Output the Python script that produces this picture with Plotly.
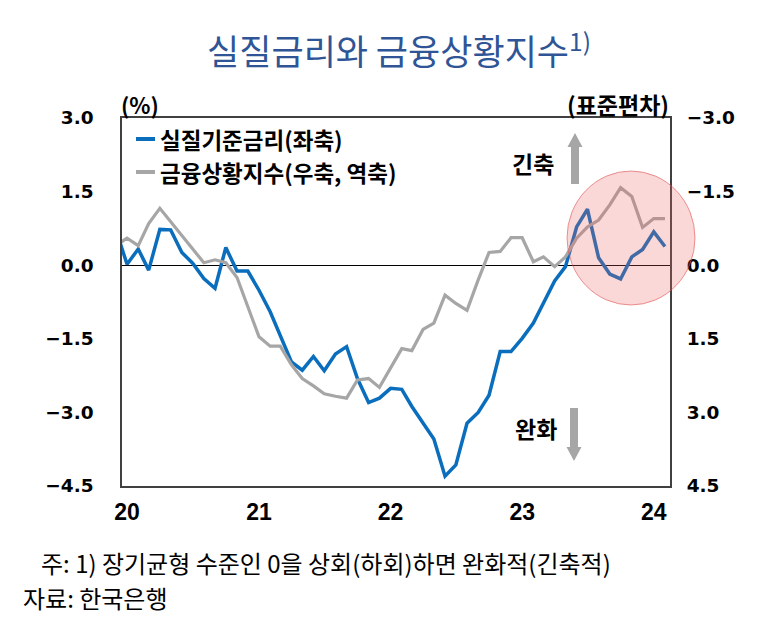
import plotly.graph_objects as go

months = [
    "2019-12", "2020-01", "2020-02", "2020-03", "2020-04", "2020-05", "2020-06",
    "2020-07", "2020-08", "2020-09", "2020-10", "2020-11", "2020-12",
    "2021-01", "2021-02", "2021-03", "2021-04", "2021-05", "2021-06",
    "2021-07", "2021-08", "2021-09", "2021-10", "2021-11", "2021-12",
    "2022-01", "2022-02", "2022-03", "2022-04", "2022-05", "2022-06",
    "2022-07", "2022-08", "2022-09", "2022-10", "2022-11", "2022-12",
    "2023-01", "2023-02", "2023-03", "2023-04", "2023-05", "2023-06",
    "2023-07", "2023-08", "2023-09", "2023-10", "2023-11", "2023-12",
    "2024-01", "2024-02",
]

real_rate = [
    0.72, 0.02, 0.33, -0.10, 0.73, 0.72, 0.26,
    0.04, -0.27, -0.47, 0.36, -0.12, -0.12,
    -0.51, -0.95, -1.45, -1.97, -2.14, -1.86,
    -2.15, -1.81, -1.66, -2.31, -2.80, -2.71,
    -2.51, -2.53, -2.88, -3.21, -3.54, -4.30,
    -4.07, -3.22, -3.00, -2.65, -1.76, -1.76,
    -1.49, -1.18, -0.78, -0.32, -0.03, 0.78,
    1.14, 0.15, -0.18, -0.28, 0.17, 0.32,
    0.68, 0.38,
]

fci = [
    -0.40, -0.55, -0.40, -0.85, -1.16, -0.89, -0.62,
    -0.34, -0.05, -0.11, -0.05, 0.25, 0.85,
    1.46, 1.65, 1.65, 2.03, 2.31, 2.46,
    2.62, 2.67, 2.71, 2.34, 2.31, 2.49,
    2.10, 1.70, 1.74, 1.31, 1.18, 0.61,
    0.78, 0.92, 0.30, -0.26, -0.28, -0.56,
    -0.56, -0.07, -0.17, 0.03, -0.17, -0.55,
    -0.78, -0.92, -1.23, -1.58, -1.40, -0.77,
    -0.95, -0.95,
]

series_names = ["실질기준금리(좌축)", "금융상황지수(우축, 역축)"]
series_colors = ["#0A6EBD", "#A6A6A6"]
left_ticks = [-4.5, -3.0, -1.5, 0.0, 1.5, 3.0]
right_ticks = [-3.0, -1.5, 0.0, 1.5, 3.0, 4.5]
note_text = "주: 1) 장기균형 수준인 0을 상회(하회)하면 완화적(긴축적)"
source_text = "자료: 한국은행"

# page layout (page pixels; the page body adds an 8px offset)
OFF = 8
W, H = 760 - OFF, 620 - OFF
L, R, T, B = 122, 670, 118, 486


def px(x):
    return (x - L) / (R - L)


def py(y):
    return (B - y) / (B - T)


KR = "Noto Sans CJK KR"
NUM = "DejaVu Sans"
XNUM = "Liberation Sans"

fig = go.Figure()
fig.add_trace(go.Scatter(
    x=months, y=real_rate, mode="lines", name=series_names[0],
    line=dict(color=series_colors[0], width=3.5), yaxis="y", showlegend=False))
fig.add_trace(go.Scatter(
    x=months, y=fci, mode="lines", name=series_names[1],
    line=dict(color=series_colors[1], width=3.2), yaxis="y2", showlegend=False))

axis_line = dict(showline=True, linecolor="#404040", linewidth=1.5, mirror=True)

fig.update_layout(
    width=W, height=H,
    margin=dict(l=L - OFF, r=W - (R - OFF), t=T - OFF, b=H - (B - OFF)),
    paper_bgcolor="white", plot_bgcolor="white",
    title=dict(text="실질금리와 금융상황지수<sup>1)</sup>", x=(399 - OFF) / W, xanchor="center",
               y=1 - (53 - OFF) / H, yanchor="middle", xref="container", yref="container",
               font=dict(family=KR, size=35, color="#2F5597")),
    xaxis=dict(type="date", range=["2019-12-18", "2024-02-15"],
               tick0="2020-01-01", dtick="M12", tickformat="%y",
               showgrid=False, zeroline=False,
               ticks="outside", ticklen=5, tickcolor="rgba(0,0,0,0)",
               tickfont=dict(family=XNUM, size=23, color="black", weight="bold"),
               **axis_line),
    yaxis=dict(range=[-4.5, 3.0], tickvals=left_ticks, tickformat=".1f",
               showgrid=False, zeroline=True, zerolinecolor="black", zerolinewidth=1,
               ticks="outside", ticklen=23, tickcolor="rgba(0,0,0,0)",
               tickfont=dict(family=NUM, size=18.5, color="black", weight="bold"),
               **axis_line),
    yaxis2=dict(range=[4.5, -3.0], tickvals=right_ticks, tickformat=".1f",
                overlaying="y", side="right", showgrid=False, zeroline=False,
                ticks="outside", ticklen=12, tickcolor="rgba(0,0,0,0)",
                tickfont=dict(family=NUM, size=18.5, color="black", weight="bold"),
                showline=False),
    showlegend=False,
)

bold = dict(color="black", weight="bold", family=KR)
annotations = [
    dict(text="(%)", x=px(119), y=py(104), xanchor="left", yanchor="middle",
         font=dict(size=22, **bold)),
    dict(text="(표준편차)", x=px(671), y=py(104), xanchor="right", yanchor="middle",
         font=dict(size=23, **bold)),
    dict(text="긴축", x=px(556), y=py(163), xanchor="right", yanchor="middle",
         font=dict(size=23, **bold)),
    dict(text="완화", x=px(559), y=py(428), xanchor="right", yanchor="middle",
         font=dict(size=23, **bold)),
    dict(text=note_text, x=px(39), y=py(562), xanchor="left", yanchor="middle",
         font=dict(family=KR, size=24, color="black")),
    dict(text=source_text, x=px(21), y=py(597.5), xanchor="left", yanchor="middle",
         font=dict(family=KR, size=24, color="black")),
]
# legend (drawn manually to match the short line samples)
legend_rows = [139, 172]
for name, color, ry in zip(series_names, series_colors, legend_rows):
    annotations.append(dict(text=name, x=px(158), y=py(ry), xanchor="left", yanchor="middle",
                            font=dict(size=22.5, **bold)))
    fig.add_shape(type="line", xref="paper", yref="paper",
                  x0=px(136), x1=px(155), y0=py(ry), y1=py(ry),
                  line=dict(color=color, width=4))

for a in annotations:
    a.setdefault("xref", "paper")
    a.setdefault("yref", "paper")
    a.setdefault("showarrow", False)
fig.update_layout(annotations=annotations)


def arrow_path(xc, tip, base, head_len, shaft_w, head_w):
    d = 1 if base > tip else -1
    hb = tip + d * head_len
    pts = [(xc, tip), (xc + head_w / 2, hb), (xc + shaft_w / 2, hb),
           (xc + shaft_w / 2, base), (xc - shaft_w / 2, base), (xc - shaft_w / 2, hb),
           (xc - head_w / 2, hb)]
    return "M " + " L ".join(f"{px(x):.5f},{py(y):.5f}" for x, y in pts) + " Z"


for tip, base, xc in [(133, 184, 575), (461, 408, 574)]:
    fig.add_shape(type="path", xref="paper", yref="paper",
                  path=arrow_path(xc, tip, base, 14, 8, 15),
                  fillcolor="#A6A6A6", line=dict(width=0))

fig.add_shape(type="circle", xref="paper", yref="paper",
              x0=px(567), x1=px(695), y0=py(305), y1=py(171),
              fillcolor="rgba(235,100,100,0.25)",
              line=dict(color="rgba(225,80,80,0.6)", width=1), layer="above")

fig.write_html("out.html")
